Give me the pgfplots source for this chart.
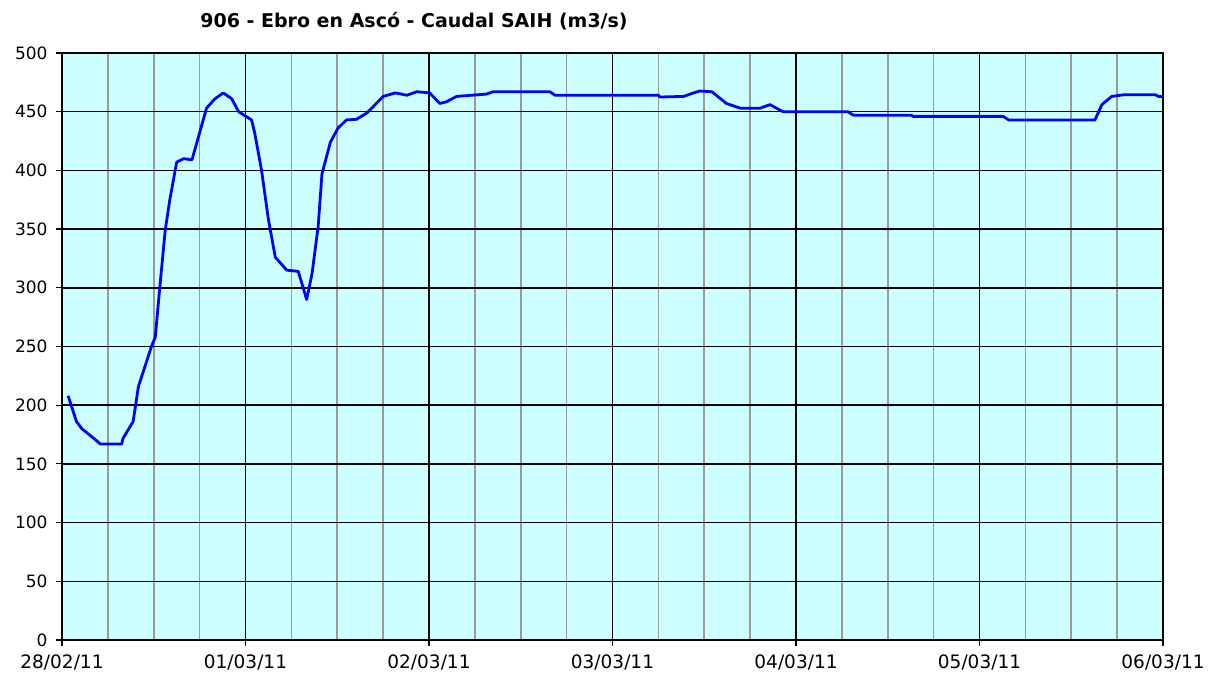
\documentclass[border=0pt]{standalone}
\usepackage{fontspec}
\setmainfont{DejaVu Sans}
\usepackage{pgfplots}
\pgfplotsset{compat=1.18}
\definecolor{plotbg}{HTML}{CCFFFF}
\definecolor{minorgrid}{HTML}{999999}

\begin{document}
\begin{tikzpicture}[x=1pt,y=1pt]
\useasboundingbox (0,0) rectangle (1221,682);
\begin{axis}[
    at={(62pt,42pt)}, anchor=south west,
    width=1101pt, height=587pt, scale only axis,
    xmin=0, xmax=144, ymin=0, ymax=500,
    axis background/.style={fill=plotbg},
    xtick={0,24,...,144},
    xticklabels={28/02/11,01/03/11,02/03/11,03/03/11,04/03/11,05/03/11,06/03/11},
    minor xtick={6,12,18,30,36,42,54,60,66,78,84,90,102,108,114,126,132,138},
    ytick={0,50,...,500},
    grid=both,
    major grid style={black, line width=1.5pt},
    minor grid style={minorgrid, line width=1.6pt},
    minor tick length=0pt,
    major tick length=6pt,
    tick align=outside,
    tick style={black, line width=1.2pt},
    axis line style={black, line width=1.5pt},
    xtick pos=bottom, ytick pos=left,
    /pgf/number format/assume math mode=true,
    scaled y ticks=false,
    xticklabel style={font=\fontsize{18.5}{22}\selectfont, yshift=-5pt},
    yticklabel style={font=\fontsize{17}{20}\selectfont, xshift=-5pt},
    title={906 - Ebro en Ascó - Caudal SAIH (m3/s)},
    title style={font=\fontsize{19}{22}\selectfont\bfseries, at={(0.3197,1)}, anchor=south, yshift=13pt},
    clip=false,
]
\addplot[color={rgb,255:red,0;green,0;blue,255}, line width=2.8pt, line join=round] coordinates {
(0.8,208) (1.9,186) (2.6,180) (4.3,171) (5.0,167) (7.8,167) (8.0,172) (9.3,186)
(10.0,216) (11.7,250) (12.2,258) (12.8,301) (13.5,349) (14.1,375) (15.0,407)
(15.9,410) (17.0,409) (18.0,432) (18.9,453) (20.0,461) (21.1,466) (22.2,461)
(23.1,450) (24.8,443) (25.2,432) (26.1,400) (27.0,358) (27.9,326) (29.4,315)
(30.9,314) (32.0,290) (32.7,312) (33.5,352) (34.0,397) (35.1,424) (36.1,436)
(37.2,443) (38.5,443.5) (39.9,449) (42.0,463) (43.6,466) (45.1,464) (46.4,467)
(48.1,466) (49.4,457) (50.3,458.5) (51.6,463) (55.5,465) (56.4,467) (63.8,467)
(64.5,464) (78.0,464) (78.2,462.5) (81.3,463) (82.6,466) (83.4,467.6) (85.0,467)
(86.9,457) (88.7,453) (91.3,453) (92.6,456) (94.3,450) (102.8,450) (103.5,447)
(111.1,447) (111.3,446) (123.1,446) (123.8,443) (135.1,443) (136.0,456)
(137.3,463) (139.0,464.5) (143.0,464.5) (143.4,463) (144,463)
};
\end{axis}
\end{tikzpicture}
\end{document}
